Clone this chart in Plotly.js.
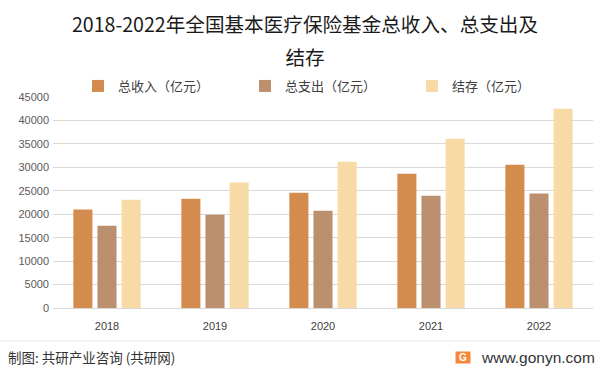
<!DOCTYPE html>
<html>
<head>
<meta charset="utf-8">
<script src="https://cdn.plot.ly/plotly-3.0.1.min.js"></script>
<style>
html,body{margin:0;padding:0;background:#fff;}
#chart{width:599px;height:371px;}
</style>
</head>
<body>
<div id="chart"></div>
<script>
const years = ['2018', '2019', '2020', '2021', '2022'];
const income = [21000, 23300, 24600, 28650, 30550];
const expense = [17550, 19900, 20750, 23950, 24400];
const balance = [23100, 26750, 31200, 36100, 42500];
const seriesNames = ['总收入（亿元）', '总支出（亿元）', '结存（亿元）'];
const seriesColors = ['#D38C4E', '#BC8F6F', '#F8DAA6'];
const yTicks = [0, 5000, 10000, 15000, 20000, 25000, 30000, 35000, 40000, 45000];

const CJK = '"Noto Sans CJK SC", "Noto Sans", sans-serif';
const W = 599, H = 371;
const M = {l: 53, r: 6, t: 97, b: 63};
const plotW = W - M.l - M.r, plotH = H - M.t - M.b;
const px = x => (x - M.l) / plotW;
const py = y => (H - M.b - y) / plotH;

const traces = [income, expense, balance].map((vals, i) => ({
  type: 'bar',
  x: years,
  y: vals,
  name: seriesNames[i],
  marker: {color: seriesColors[i]},
  hoverinfo: 'x+y+name'
}));

const annotations = [
  {text: '制图: 共研产业咨询 (共研网)', xref: 'paper', yref: 'paper', x: px(6), y: py(357), xanchor: 'left', yanchor: 'middle', showarrow: false, font: {family: CJK, size: 13.5, color: '#333333'}},
  {text: 'www.gonyn.com', xref: 'paper', yref: 'paper', x: px(597), y: py(357), xanchor: 'right', yanchor: 'middle', showarrow: false, font: {family: 'Arial, "Liberation Sans", sans-serif', size: 15.5, color: '#333333'}},
  {text: '<b>G</b>', xref: 'paper', yref: 'paper', x: px(463), y: py(357), xanchor: 'center', yanchor: 'middle', showarrow: false, bgcolor: '#F4893C', borderpad: 0, width: 14, height: 11, font: {family: 'Arial, sans-serif', size: 10, color: '#ffffff'}}
];

// faint watermarks, kept inside the plot area
const wm = [[175, 140], [430, 150], [300, 235], [160, 285], [460, 280]];
wm.forEach(([x, y]) => {
  annotations.push({text: '共研产业咨询<br><span style="font-size:11px">w w w . g o n y n . c o m</span>', xref: 'paper', yref: 'paper', x: px(x), y: py(y), xanchor: 'center', yanchor: 'middle', showarrow: false, textangle: -10, font: {family: CJK, size: 22, color: 'rgba(0,0,0,0.022)'}});
});

const layout = {
  width: W, height: H,
  margin: M,
  paper_bgcolor: '#ffffff',
  plot_bgcolor: '#ffffff',
  title: {
    text: '<span style="font-size:19.6px">2018-2022年全国基本医疗保险基金总收入、总支出及</span><br><span style="font-size:19.6px">结存</span>',
    font: {family: CJK, size: 25.5, color: '#1a1a1a'},
    x: px(305), xref: 'paper', xanchor: 'center',
    y: 1 - 32 / H, yanchor: 'middle'
  },
  barmode: 'group',
  bargap: 0.33,
  bargroupgap: 0.21,
  showlegend: true,
  legend: {
    orientation: 'h',
    x: px(78), xanchor: 'left',
    y: py(86), yanchor: 'middle',
    font: {family: CJK, size: 13, color: '#404040'},
    itemwidth: 30,
    entrywidth: 122,
    traceorder: 'normal',
    bgcolor: 'rgba(0,0,0,0)'
  },
  xaxis: {
    type: 'category',
    showgrid: false,
    showline: true,
    linecolor: '#d9d9d9',
    linewidth: 1,
    ticks: '',
    tickfont: {family: 'Arial, "Liberation Sans", sans-serif', size: 11, color: '#404040'},
    ticklabelstandoff: 8,
    fixedrange: true
  },
  yaxis: {
    range: [0, 45000],
    tickvals: yTicks,
    ticktext: yTicks.map(String),
    showgrid: true,
    gridcolor: '#d9d9d9',
    gridwidth: 1,
    zeroline: false,
    showline: false,
    ticks: '',
    tickfont: {family: 'Arial, "Liberation Sans", sans-serif', size: 11, color: '#595959'},
    ticklabelstandoff: 3,
    fixedrange: true
  },
  shapes: [
    {type: 'line', xref: 'paper', yref: 'paper', x0: px(0), x1: px(W), y0: py(341), y1: py(341), line: {color: '#e6e6e6', width: 1}, layer: 'below'}
  ],
  annotations: annotations
};

Plotly.newPlot('chart', traces, layout, {displayModeBar: false, staticPlot: true});
</script>
</body>
</html>
